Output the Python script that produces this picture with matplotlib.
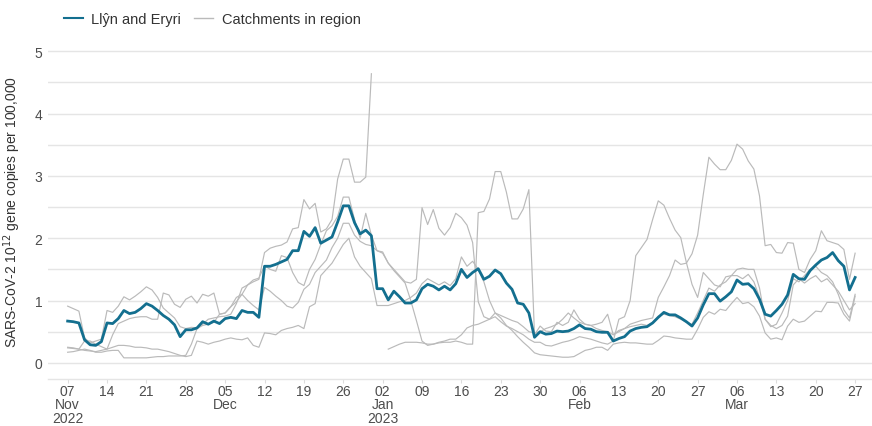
import numpy as np
import pandas as pd
import matplotlib
matplotlib.use("Agg")
import matplotlib.pyplot as plt
from matplotlib.lines import Line2D

plt.rcParams['font.family'] = ['Liberation Sans', 'DejaVu Sans']

nan = np.nan
dates = pd.date_range("2022-11-07", "2023-03-27", freq="D")

# Llŷn and Eryri, daily
llyn_eryri = [
    0.67, 0.66, 0.64, 0.37, 0.29, 0.28, 0.34, 0.64, 0.63, 0.71,
    0.84, 0.79, 0.81, 0.87, 0.95, 0.91, 0.84, 0.76, 0.70, 0.61,
    0.42, 0.53, 0.53, 0.56, 0.66, 0.62, 0.67, 0.63, 0.71, 0.73,
    0.71, 0.84, 0.81, 0.81, 0.73, 1.55, 1.55, 1.58, 1.62, 1.66,
    1.80, 1.80, 2.11, 2.03, 2.17, 1.92, 1.97, 2.02, 2.26, 2.52,
    2.52, 2.25, 2.07, 2.13, 2.04, 1.19, 1.19, 1.01, 1.15, 1.06,
    0.96, 0.96, 1.01, 1.19, 1.26, 1.23, 1.17, 1.23, 1.17, 1.27,
    1.50, 1.37, 1.45, 1.51, 1.34, 1.39, 1.49, 1.43, 1.28, 1.18,
    0.96, 0.94, 0.80, 0.41, 0.50, 0.46, 0.47, 0.51, 0.50, 0.51,
    0.55, 0.61, 0.55, 0.54, 0.50, 0.49, 0.49, 0.35, 0.39, 0.42,
    0.51, 0.55, 0.57, 0.58, 0.64, 0.73, 0.81, 0.77, 0.77, 0.72,
    0.66, 0.59, 0.72, 0.93, 1.11, 1.11, 0.99, 1.06, 1.14, 1.33,
    1.26, 1.27, 1.19, 1.02, 0.78, 0.75, 0.84, 0.94, 1.09, 1.42,
    1.35, 1.34, 1.48, 1.57, 1.65, 1.69, 1.77, 1.64, 1.55, 1.17, 1.37,
]

# other catchments in the region
catch_1 = [
    0.91, 0.87, 0.83, 0.40, 0.32, 0.35, 0.38, 0.84, 0.81, 0.91,
    1.06, 1.01, 1.07, 1.14, 1.22, 1.17, 1.05, 0.88, 0.80, 0.72,
    0.58, 0.55, 0.57, 0.56, 0.62, 0.70, 0.72, 0.74, 0.75, 0.78, 0.95, 1.20, 1.25, 1.30, 1.34,
    1.77, 1.84, 1.87, 1.89, 1.94, 2.15, 2.17, 2.62, 2.47, 2.56, 2.10, 2.15, 2.30, 2.95, 3.27, 3.27,
    2.90, 2.90, 2.98, 4.64,
    nan, nan,
    0.22, 0.26, 0.30, 0.33, 0.33, 0.33, 0.32, 0.30, 0.30, 0.33, 0.35, 0.38, 0.38, 0.45, 0.56, 0.60,
    0.62, 0.66, 0.70, 0.80, 0.72, 0.60, 0.52, 0.42, 0.33, 0.25, 0.16, 0.13, 0.12, 0.11,
    0.10, 0.09, 0.09, 0.10, 0.15, 0.20, 0.22, 0.25, 0.25, 0.20, 0.30, 0.32, 0.33, 0.32,
    0.32, 0.31, 0.30, 0.30, 0.36, 0.43, 0.42, 0.40, 0.39, 0.38, 0.38, 0.54, 0.73, 0.82, 0.78, 0.86, 0.84,
    0.95, 1.05, 0.95, 0.97, 0.90, 0.75, 0.48, 0.38, 0.40, 0.37, 0.59, 0.70, 0.65, 0.67, 0.75, 0.83,
    0.82, 0.97, 0.97, 0.96, 0.78, 0.67, 1.07,
]
catch_2 = [
    0.25, 0.24, 0.22, 0.35, 0.35, 0.30, 0.26, 0.22, 0.45, 0.63, 0.67, 0.71, 0.73, 0.74, 0.74, 0.70, 0.70,
    1.12, 1.09, 0.94, 0.89, 1.02, 1.07, 0.96, 1.10, 1.07, 1.12, 0.78, 0.80, 0.90, 0.98, 1.10, 1.25, 1.33, 1.36,
    1.56, 1.50, 1.47, 1.72, 1.69, 1.45, 1.29, 1.24, 1.50, 1.66, 1.90, 2.12, 2.20, 2.35, 2.66, 2.66,
    2.30, 2.00, 2.40, 2.05, 1.80, 1.78, 1.60, 1.50, 1.40, 1.30, 1.28, 1.34,
    2.49, 2.22, 2.46, 2.16, 2.05, 2.17, 2.40, 2.33, 2.21, 1.93,
    0.98, 0.74, 0.70, 0.74, 0.66, 0.59, 0.55, 0.50, 0.45, 0.38, 0.33, 0.33, 0.28, 0.27,
    0.30, 0.33, 0.35, 0.38, 0.42, 0.40, 0.38, 0.35, 0.32, 0.30,
    0.35, 0.70, 0.74, 1.00, 1.72, 1.85, 1.98, 2.30, 2.60, 2.53, 2.32, 2.13, 2.01, 1.61, 1.26, 1.05,
    1.45, 1.35, 1.25, 1.22, 1.38, 1.40, 1.40, 1.35, 1.42, 1.30, 1.05, 0.70, 0.60, 0.55, 0.60, 0.75,
    1.25, 1.35, 1.28, 1.35, 1.40, 1.30, 1.35, 1.25, 1.15, 1.00, 0.85, 0.95,
]
catch_3 = [
    0.17, 0.18, 0.20, 0.22, 0.20, 0.17, 0.17, 0.19, 0.20, 0.20, 0.08, 0.08, 0.08, 0.08, 0.08, 0.09, 0.10,
    0.10, 0.11, 0.11, 0.11, 0.12, 0.30, 0.55, 0.60, 0.62, 0.65, 0.78, 0.80, 0.90, 1.05, 1.10, 1.00, 0.92, 0.85,
    1.21, 1.15, 1.07, 1.00, 0.91, 0.88, 0.97, 1.18, 1.26, 1.45, 1.55, 1.65, 1.85, 2.00, 2.24, 2.24,
    2.05, 1.95, 1.90, 1.88, 1.80, 1.76, 1.60, 1.48, 1.38, 1.28, 1.00, 0.68,
    0.35, 0.28, 0.30, 0.32, 0.33, 0.33, 0.35, 0.33, 0.30, 0.30,
    2.41, 2.43, 2.63, 3.07, 3.07, 2.74, 2.31, 2.31, 2.47, 2.78,
    0.45, 0.59, 0.51, 0.50, 0.65, 0.60, 0.65, 0.85, 0.70, 0.62, 0.60, 0.62, 0.65, 0.78, 0.45, 0.52, 0.55,
    0.62, 0.65, 0.68, 0.70, 0.72, 1.05, 1.22, 1.40, 1.65, 1.58, 1.60, 1.75, 2.05, 2.70, 3.30, 3.19,
    3.10, 3.10, 3.25, 3.51, 3.43, 3.24, 3.11, 2.68, 1.88, 1.90, 1.77, 1.76, 1.93, 1.92, 1.50, 1.45,
    1.66, 1.80, 2.12, 1.96, 1.93, 1.90, 1.82, 1.34, 1.76,
]
catch_4 = [
    0.24, 0.23, 0.22, 0.20, 0.19, 0.18, 0.20, 0.22, 0.25, 0.28, 0.28, 0.27, 0.25, 0.25, 0.24, 0.22, 0.22,
    0.20, 0.18, 0.15, 0.12, 0.10, 0.12, 0.35, 0.33, 0.30, 0.33, 0.35, 0.38, 0.40, 0.38, 0.37, 0.40, 0.28, 0.25,
    0.48, 0.47, 0.45, 0.52, 0.55, 0.57, 0.60, 0.55, 0.90, 0.95, 1.40, 1.50, 1.60, 1.75, 1.90, 2.00,
    1.70, 1.55, 1.45, 1.35, 0.92, 0.92, 0.92, 0.95, 0.98, 1.00, 1.05, 1.12,
    1.27, 1.35, 1.30, 1.25, 1.30, 1.24, 1.35, 1.70, 1.55, 1.63,
    1.50, 1.30, 1.00, 0.80, 0.76, 0.72, 0.68, 0.65, 0.58, 0.50, 0.48, 0.50, 0.55, 0.58,
    0.62, 0.70, 0.80, 0.72, 0.65, 0.62, 0.60, 0.55, 0.52, 0.50, 0.45, 0.50, 0.55,
    0.58, 0.60, 0.62, 0.60, 0.65, 0.75, 0.78, 0.76, 0.74, 0.70, 0.65, 0.62, 0.80, 1.00, 1.20, 1.15,
    1.25, 1.30, 1.40, 1.50, 1.52, 1.50, 1.50, 1.20, 0.70, 0.58, 0.62, 0.80, 1.00, 1.35, 1.30, 1.40,
    1.50, 1.55, 1.45, 1.40, 1.30, 1.10, 0.85, 0.72, 1.10,
]

teal = "#136f8f"
grey = "#bababa"
text_col = "#4d4d4d"

fig = plt.figure(figsize=(8.72, 4.27), dpi=100)
ax = fig.add_axes([0.055, 0.11, 0.945, 0.785])

for s in [catch_1, catch_2, catch_3, catch_4]:
    ax.plot(dates, s, color=grey, lw=0.85, zorder=2)
ax.plot(dates, llyn_eryri, color=teal, lw=2.0, zorder=3)

ax.set_ylim(-0.26, 5.12)
ax.set_xlim(pd.Timestamp("2022-11-03 12:00"), pd.Timestamp("2023-03-30"))
ax.set_yticks([0, 1, 2, 3, 4, 5])
ax.set_yticks(np.arange(0.5, 5.0, 1.0), minor=True)
ax.grid(axis="y", which="both", color="#e5e5e5", lw=1.0, zorder=0)
ax.tick_params(axis="y", which="both", length=0, labelsize=10, labelcolor=text_col, pad=4)

# weekly ticks, month under the first tick of each month, year when it changes
ticks = pd.date_range("2022-11-07", "2023-03-27", freq="7D")
labels = []
prev_month = None
prev_year = None
for t in ticks:
    lab = t.strftime("%d")
    if t.month != prev_month:
        lab += "\n" + t.strftime("%b")
        if t.year != prev_year:
            lab += "\n" + str(t.year)
            prev_year = t.year
        prev_month = t.month
    labels.append(lab)
ax.set_xticks(ticks)
ax.set_xticklabels(labels, linespacing=0.95)
ax.tick_params(axis="x", length=3, color="#dddddd", labelsize=10, labelcolor=text_col, pad=0.5)

for sp in ["top", "right", "left"]:
    ax.spines[sp].set_visible(False)
ax.spines["bottom"].set_color("#e5e5e5")
ax.spines["bottom"].set_linewidth(1.0)

ax.set_ylabel("SARS-CoV-2 10$^{12}$ gene copies per 100,000", fontsize=10, color="#333333", labelpad=8)

handles = [Line2D([], [], color=teal, lw=1.5), Line2D([], [], color=grey, lw=1.0)]
fig.legend(handles, ["Llŷn and Eryri", "Catchments in region"], loc="upper left",
           bbox_to_anchor=(0.058, 1.0), ncol=2, frameon=False, fontsize=10.5,
           handlelength=1.3, handletextpad=0.6, columnspacing=0.9, labelcolor="#333333")

fig.savefig("out.png", dpi=100)
